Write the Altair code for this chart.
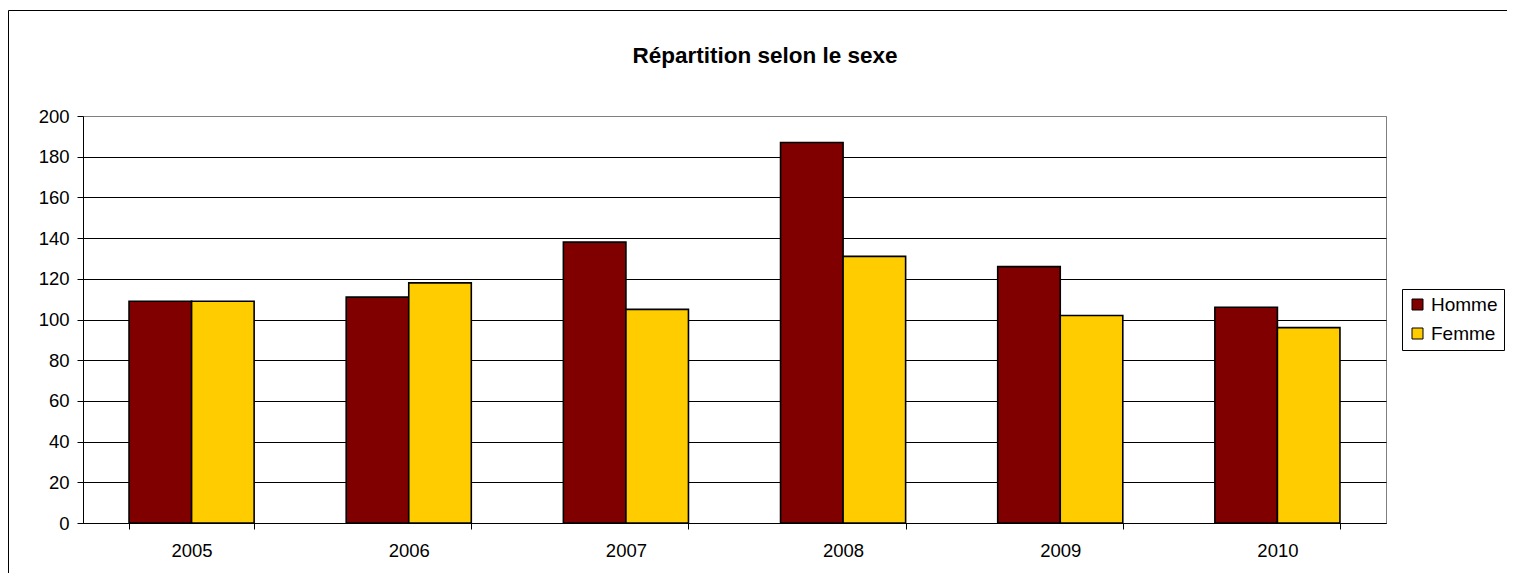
import altair as alt
import pandas as pd

years = ["2005", "2006", "2007", "2008", "2009", "2010"]
homme = [109, 111, 138, 187, 126, 106]
femme = [109, 118, 105, 131, 102, 96]
series = ["Homme", "Femme"]
colors = ["#800000", "#FFCC00"]
y_ticks = list(range(0, 201, 20))
title_text = "Répartition selon le sexe"

rows = []
for i, yr in enumerate(years):
    rows.append({"annee": yr, "sexe": "Homme", "valeur": homme[i]})
    rows.append({"annee": yr, "sexe": "Femme", "valeur": femme[i]})
df = pd.DataFrame(rows)

FONT = "Liberation Sans"

bars = alt.Chart(df).mark_bar(stroke="black", strokeWidth=1.6).encode(
    x=alt.X("annee:N", sort=years, title=None,
            scale=alt.Scale(paddingInner=0.424, paddingOuter=0.212),
            axis=alt.Axis(labelAngle=0, tickBand="extent", tickSize=6, tickColor="black",
                          domainColor="black", labelFontSize=18.5, labelPadding=12,
                          labelColor="black", grid=False)),
    xOffset=alt.XOffset("sexe:N", sort=series),
    y=alt.Y("valeur:Q", title=None,
            scale=alt.Scale(domain=[0, 200], nice=False),
            axis=alt.Axis(values=y_ticks, tickSize=6, tickColor="black", domainColor="black",
                          labelFontSize=18.5, labelPadding=8, labelColor="black",
                          gridColor={"condition": {"test": "datum.value == 200", "value": "#808080"},
                                     "value": "black"},
                          gridWidth=1)),
    color=alt.Color("sexe:N", sort=series,
                    scale=alt.Scale(domain=series, range=colors),
                    legend=alt.Legend(title=None, orient="none", legendX=1319, legendY=173,
                                      symbolType="square", symbolSize=121,
                                      symbolStrokeColor="black", symbolStrokeWidth=1,
                                      labelFontSize=19, labelColor="black", labelOffset=4,
                                      strokeColor="black", padding=6, rowPadding=9,
                                      fillColor="white")),
)

border = alt.Chart(alt.Data(values=[{}])).mark_rect(
    fill=None, stroke="black", strokeWidth=1
).encode(
    x=alt.value(-74.5), x2=alt.value(3000), y=alt.value(-105.5), y2=alt.value(3000)
)

title = alt.Chart(alt.Data(values=[{"t": title_text}])).mark_text(
    font=FONT, fontSize=22.5, fontWeight="bold", color="black", align="center", baseline="middle"
).encode(
    text="t:N", x=alt.value(682), y=alt.value(-60)
)

chart = alt.layer(border, title, bars).properties(
    width=1303,
    height=407,
    autosize=alt.AutoSizeParams(type="none"),
    padding={"left": 75, "top": 108, "right": 121, "bottom": 50},
).configure(font=FONT).configure_view(stroke="#808080", strokeWidth=1).configure_axis(
    labelFont=FONT
).configure_legend(labelFont=FONT)

chart.save("out.html", embed_options={"renderer": "svg", "actions": False})
